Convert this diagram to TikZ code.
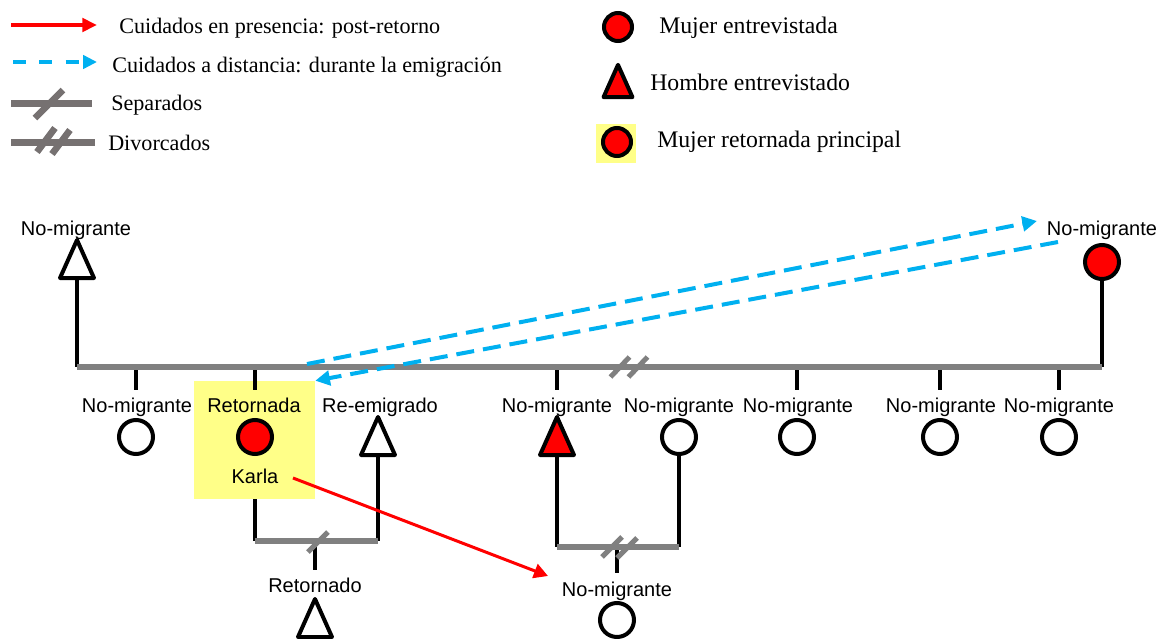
\documentclass[tikz,border=0pt]{standalone}
\usepackage{fontspec}
\setmainfont{Liberation Serif}
\setsansfont{Liberation Sans}
\usetikzlibrary{arrows.meta}
\definecolor{carered}{RGB}{255,0,0}
\definecolor{remote}{RGB}{0,176,240}
\definecolor{tiegray}{RGB}{128,128,128}
\definecolor{keygray}{RGB}{118,113,113}
\definecolor{hilite}{RGB}{255,255,136}

\begin{document}
\begin{tikzpicture}[x=0.75pt,y=-0.75pt,
  kin/.style={line width=3pt, black},
  tie/.style={line width=4pt, tiegray},
  cut/.style={line width=3.75pt, tiegray},
  keytie/.style={line width=5.25pt, keygray},
  keycut/.style={line width=5pt, keygray},
  female/.style={circle, draw=black, line width=3pt, fill=white,
                 minimum size=25.5pt, inner sep=0pt},
  keyfemale/.style={female, fill=carered, minimum size=21pt},
  label/.style={font=\sffamily\fontsize{15}{15}\selectfont, inner sep=0pt, anchor=base},
  keyleft/.style={font=\fontsize{16.6}{17}\selectfont, inner sep=0pt, anchor=base west},
  keyright/.style={font=\fontsize{17.8}{18}\selectfont, inner sep=0pt, anchor=base west},
  present/.style={carered, line width=2.25pt, -{Triangle[length=10.5pt,width=11pt]}},
  keypresent/.style={carered, line width=3.4pt, -{Triangle[length=11pt,width=10pt]}},
  distant/.style={remote, line width=3pt, dash pattern=on 13.5pt off 6.75pt,
                  -{Triangle[length=11pt,width=11pt]}},
  keydistant/.style={remote, line width=3.4pt, dash pattern=on 9.75pt off 10pt,
                  -{Triangle[length=10.5pt,width=10pt]}},
  male/.pic={\draw[line width=3pt, line join=round, fill=#1]
               (0,-19) -- (17,19) -- (-17,19) -- cycle;
             \coordinate (-base) at (0,19);
             \coordinate (-top) at (0,-19);},
]
\useasboundingbox (0,0) rectangle (1165,639);

% ---------- legend, left column ----------
\coordinate (k1a) at (11,25);   \coordinate (k1b) at (97,25);
\draw[keypresent] (k1a) -- (k1b);
\node[keyleft] (k1t) at (119,33) {Cuidados en presencia: post-retorno};

\coordinate (k2a) at (13,62);   \coordinate (k2b) at (97,62);
\draw[keydistant] (k2a) -- (k2b);
\node[keyleft] (k2t) at (112,72) {Cuidados a distancia: durante la emigración};

\coordinate (k3a) at (11,103);  \coordinate (k3b) at (92,103);
\draw[keytie] (k3a) -- (k3b);
\draw[keycut] (35,118) -- (63,90);
\node[keyleft] (k3t) at (111,110) {Separados};

\coordinate (k4a) at (11,142);  \coordinate (k4b) at (95,142);
\draw[keytie] (k4a) -- (k4b);
\draw[keycut] (37,152) -- (55,128);
\draw[keycut] (52,154) -- (70,130);
\node[keyleft] (k4t) at (108,150) {Divorcados};

% ---------- legend, right column ----------
\node[keyfemale] (kf) at (618,27) {};
\node[keyright] (kft) at (659,33) {Mujer entrevistada};

\pic[scale=0.85] (km) at (618,81) {male=carered};
\node[keyright] (kmt) at (650,90) {Hombre entrevistado};

\fill[hilite] (596,124) rectangle (636,163);
\node[keyfemale] (kr) at (617,142) {};
\node[keyright] (krt) at (657,147) {Mujer retornada principal};

% ---------- parents ----------
\pic (pa) at (77,259) {male=white};
\node[label] (pal) at (76,235) {No-migrante};
\node[female, fill=carered] (ma) at (1102,262) {};
\node[label] (mal) at (1102,235) {No-migrante};

\coordinate (famL) at (77,367);
\coordinate (famR) at (1102,367);
\draw[kin] (pa-base) -- (famL);
\draw[kin] (ma) -- (famR);

% ---------- children ----------
\node[female] (c1) at (136,437) {};
\node[label] (c1l) at (137,412) {No-migrante};

\node[fill=hilite, inner sep=0pt, minimum width=90.75pt, minimum height=88.5pt]
      (hl) at (254.5,440) {};
\node[female, fill=carered] (c2) at (255,437) {};
\node[label] (c2l) at (254,412) {Retornada};
\node[label] (c2n) at (255,483) {Karla};

\pic (c3) at (557,436) {male=carered};
\node[label] (c3l) at (557,412) {No-migrante};

\node[female] (c4) at (797,437) {};
\node[label] (c4l) at (798,412) {No-migrante};
\node[female] (c5) at (940,437) {};
\node[label] (c5l) at (941,412) {No-migrante};
\node[female] (c6) at (1059,437) {};
\node[label] (c6l) at (1059,412) {No-migrante};

\foreach \k in {c1,c2,c3-top,c4,c5,c6}
  \draw[kin] (famL -| \k) -- ++(0,23);
\draw[tie] (famL) -- (famR);
\draw[cut] (620,367) ++(-9.5,10) -- ++(19,-20);
\draw[cut] (638,367) ++(-9.5,10) -- ++(19,-20);

% ---------- Karla and her partner ----------
\pic (sp1) at (378,436) {male=white};
\node[label] (sp1l) at (380,412) {Re-emigrado};
\coordinate (cp1L) at (254.5,541);
\coordinate (cp1R) at (378,541);
\draw[kin] (hl.south) -- (cp1L);
\draw[kin] (sp1-base) -- (cp1R);
\pic (g1) at (315,618) {male=white};
\node[label] (g1l) at (315,592) {Retornado};
\draw[kin] (cp1L -| g1-top) -- ++(0,29);
\draw[tie] (cp1L) -- (cp1R);
\draw[cut] (318,542) ++(-10,10) -- ++(20,-20);

% ---------- the interviewed man and his partner ----------
\node[female] (sp2) at (679,437) {};
\node[label] (sp2l) at (679,412) {No-migrante};
\coordinate (cp2L) at (557,547);
\coordinate (cp2R) at (679,547);
\draw[kin] (c3-base) -- (cp2L);
\draw[kin] (sp2) -- (cp2R);
\node[female] (g2) at (617,620) {};
\node[label] (g2l) at (617,596) {No-migrante};
\draw[kin] (cp2L -| g2) -- ++(0,26);
\draw[tie] (cp2L) -- (cp2R);
\draw[cut] (612,547) ++(-10,10) -- ++(20,-20);
\draw[cut] (627,548) ++(-10,10) -- ++(20,-20);

% ---------- care relations ----------
\coordinate (d1s) at (307,364);
\coordinate (d1e) at (1037,221);
\draw[distant] (d1s) -- (d1e);
\coordinate (d2s) at (1058,242);
\draw[distant] (d2s) -- (hl.north east);

\coordinate (r1s) at (293,478);
\coordinate (r1e) at (548,576);
\draw[present] (r1s) -- (r1e);
\end{tikzpicture}
\end{document}
